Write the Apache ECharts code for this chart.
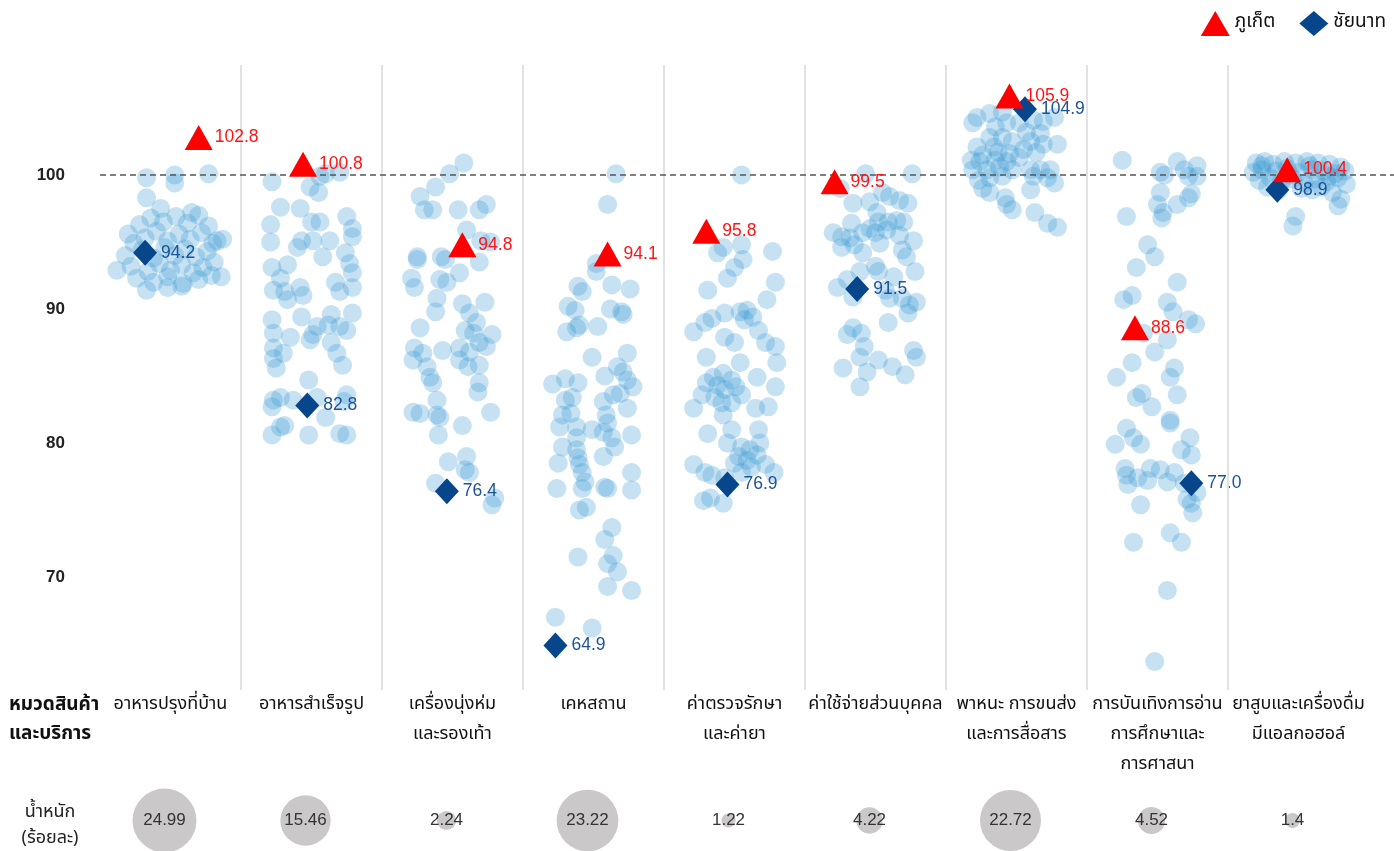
<!DOCTYPE html>
<html>
<head>
<meta charset="utf-8">
<script src="https://cdn.jsdelivr.net/npm/echarts@6/dist/echarts.min.js"></script>
<style>
html,body{margin:0;padding:0;background:#fff;}
#chart{width:1394px;height:851px;}
</style>
</head>
<body>
<div id="chart"></div>
<script>
const categories = [
  'อาหารปรุงที่บ้าน',
  'อาหารสำเร็จรูป',
  'เครื่องนุ่งห่ม\nและรองเท้า',
  'เคหสถาน',
  'ค่าตรวจรักษา\nและค่ายา',
  'ค่าใช้จ่ายส่วนบุคคล',
  'พาหนะ การขนส่ง\nและการสื่อสาร',
  'การบันเทิงการอ่าน\nการศึกษาและ\nการศาสนา',
  'ยาสูบและเครื่องดื่ม\nมีแอลกอฮอล์'
];
const weights = [24.99, 15.46, 2.24, 23.22, 1.22, 4.22, 22.72, 4.52, 1.4];
const phuketValues = [102.8, 100.8, 94.8, 94.1, 95.8, 99.5, 105.9, 88.6, 100.4];
const phuketJitter = [0.20, -0.06, 0.07, 0.10, -0.20, -0.29, -0.05, -0.16, -0.08];
const chainatValues = [94.2, 82.8, 76.4, 64.9, 76.9, 91.5, 104.9, 77.0, 98.9];
const chainatJitter = [-0.18, -0.03, -0.04, -0.27, -0.05, -0.13, 0.06, 0.24, -0.15];
const yTicks = [70, 80, 90, 100];

// other provinces: [jitter, index value]
const ptsFoodHome = [
  [-0.17,99.8],[0.03,100.0],[0.03,99.4],[0.27,100.1],[-0.17,98.3],[-0.07,97.5],[0.15,97.2],
  [-0.30,95.6],[-0.22,96.3],[-0.14,96.8],[-0.05,96.5],[0.04,96.9],[0.12,96.4],[0.20,97.0],[0.27,96.2],
  [-0.26,94.9],[-0.18,95.3],[-0.10,95.8],[-0.02,95.1],[0.06,95.6],[0.14,95.2],[0.22,95.7],[0.30,94.9],
  [-0.32,94.0],[-0.20,94.4],[-0.12,93.8],[-0.04,94.6],[0.03,94.0],[0.10,94.5],[0.18,93.9],[0.26,94.3],[0.33,95.1],
  [-0.28,93.2],[-0.16,92.8],[-0.08,93.4],[0.00,92.9],[0.08,93.3],[0.16,92.7],[0.23,93.1],[0.31,93.5],
  [-0.24,92.3],[-0.12,92.0],[-0.02,92.4],[0.09,91.9],[0.20,92.2],[0.29,92.5],
  [-0.17,91.4],[-0.02,91.6],[0.08,91.7],[0.36,92.4],[-0.38,92.9],[0.37,95.2]
];
const ptsReadyFood = [
  [-0.28,99.5],[-0.01,99.1],[0.05,98.7],[0.10,100.1],[0.20,100.2],[0.06,99.9],[-0.22,97.6],[-0.08,97.5],
  [0.25,96.9],[-0.29,96.3],[0.00,96.5],[0.06,96.5],[0.29,96.0],[-0.29,95.0],[-0.07,95.1],[-0.10,94.6],
  [0.01,95.1],[0.13,95.1],[0.29,95.4],[0.08,93.9],[0.24,94.2],[-0.28,93.1],[-0.17,93.3],[0.27,93.4],
  [0.29,92.7],[-0.22,92.3],[0.17,92.0],[-0.27,91.4],[-0.08,91.6],[-0.19,91.3],[-0.06,91.0],[-0.17,90.7],
  [0.20,91.3],[0.29,91.6],[-0.28,89.2],[-0.07,89.4],[0.14,89.6],[0.29,89.7],[-0.27,88.2],[-0.15,87.9],
  [0.04,88.7],[0.12,88.8],[0.20,88.7],[0.25,88.4],[-0.01,87.7],[0.01,88.1],[0.14,87.5],[-0.27,87.1],
  [-0.20,86.7],[0.18,86.7],[-0.27,86.3],[-0.25,85.6],[0.22,85.8],[-0.02,84.7],[-0.27,83.2],[-0.28,82.7],
  [-0.22,83.4],[-0.13,83.2],[0.04,83.4],[0.25,83.6],[0.23,83.1],[0.10,81.9],[-0.28,80.6],[-0.22,81.2],
  [-0.19,81.3],[-0.02,80.6],[0.20,80.7],[0.25,80.6]
];
const ptsApparel = [
  [0.08,100.9],[-0.02,100.1],[-0.12,99.1],[-0.23,98.4],[-0.20,97.4],[-0.14,97.4],[0.04,97.4],[0.19,97.4],
  [0.24,97.8],[0.10,95.9],[0.20,95.1],[0.27,95.0],[-0.25,93.9],[-0.25,93.7],[-0.08,93.9],[-0.05,93.7],
  [0.19,93.5],[0.05,92.7],[-0.29,92.3],[-0.27,91.6],[-0.09,92.2],[-0.04,92.0],[-0.11,90.8],[-0.12,89.8],
  [0.07,90.4],[0.12,89.7],[0.23,90.5],[0.17,89.0],[-0.23,88.6],[0.09,88.4],[0.15,88.2],[0.28,88.1],
  [0.19,87.5],[0.24,87.2],[-0.27,87.1],[-0.21,86.7],[-0.07,86.9],[0.05,87.1],[0.12,86.8],[-0.28,86.2],
  [-0.18,85.7],[0.05,86.2],[0.11,85.7],[0.19,85.8],[-0.16,84.9],[-0.14,84.5],[0.19,84.5],[0.18,83.8],
  [-0.11,83.2],[-0.28,82.3],[-0.23,82.2],[-0.11,82.1],[-0.09,81.9],[0.27,82.3],[0.07,81.3],[-0.10,80.6],
  [-0.03,78.6],[0.10,79.0],[0.09,78.0],[0.12,77.8],[-0.12,77.0],[0.30,75.9],[0.28,75.4]
];
const ptsHousing = [
  [0.16,100.1],[0.10,97.8],[0.02,93.4],[0.02,92.8],[-0.11,91.7],[-0.08,91.3],[0.13,91.8],[0.26,91.5],
  [-0.18,90.2],[-0.13,89.9],[0.12,90.0],[0.20,89.8],[0.21,89.6],[-0.19,88.3],[-0.12,88.6],[-0.10,88.8],
  [0.03,88.7],[-0.01,86.4],[0.24,86.7],[-0.29,84.4],[-0.20,84.8],[-0.11,84.5],[0.08,85.0],[0.17,85.7],
  [0.21,85.3],[0.24,84.7],[0.28,84.2],[0.19,83.7],[-0.20,83.2],[-0.15,83.4],[0.07,83.1],[0.14,83.6],
  [0.24,82.6],[-0.22,82.1],[-0.16,82.2],[0.09,82.1],[0.10,81.5],[-0.24,81.2],[-0.12,81.2],[-0.01,81.0],
  [0.07,80.8],[0.13,80.4],[0.27,80.6],[-0.12,80.4],[-0.22,79.7],[-0.12,79.5],[0.15,79.7],[0.07,79.0],
  [-0.25,78.5],[-0.11,78.9],[-0.10,78.4],[-0.08,77.8],[0.27,77.8],[-0.06,77.1],[-0.08,76.6],[-0.26,76.6],
  [0.08,76.7],[0.10,76.6],[0.27,76.5],[-0.05,75.2],[-0.10,75.0],[0.13,73.7],[0.08,72.8],[0.14,71.6],
  [0.10,71.0],[0.17,70.4],[-0.11,71.5],[0.10,69.3],[0.27,69.0],[-0.27,67.0],[-0.01,66.2]
];
const ptsMedical = [
  [0.05,100.0],[0.27,94.3],[-0.12,94.2],[-0.08,94.6],[0.05,94.8],[0.06,93.7],[0.00,93.1],[-0.05,92.3],
  [0.29,92.0],[-0.19,91.4],[0.23,90.7],[-0.29,88.3],[-0.21,89.0],[-0.16,89.3],[-0.07,89.7],[0.04,89.8],
  [0.09,89.9],[0.13,89.4],[0.07,89.2],[0.17,88.4],[-0.07,87.9],[0.00,87.5],[0.22,87.5],[0.29,87.2],
  [-0.20,86.4],[0.30,86.0],[0.04,86.0],[-0.15,84.9],[-0.08,85.2],[-0.02,84.7],[-0.20,84.5],[-0.12,84.3],
  [-0.07,84.0],[0.01,84.2],[0.05,83.6],[0.16,84.9],[0.29,84.2],[-0.14,83.4],[-0.09,83.0],[-0.23,83.6],
  [-0.29,82.6],[-0.02,83.0],[0.15,82.6],[0.24,82.7],[-0.08,82.1],[-0.19,80.7],[-0.02,81.0],[0.17,81.0],
  [-0.05,80.0],[0.05,79.7],[0.11,79.5],[0.18,80.0],[0.03,79.0],[0.09,78.7],[0.16,79.1],[0.00,78.5],
  [-0.29,78.4],[0.12,78.2],[0.22,78.4],[0.28,77.8],[-0.21,77.8],[-0.16,77.6],[-0.07,77.4],[0.05,77.8],
  [-0.22,75.7],[-0.17,75.9],[-0.08,75.5]
];
const ptsPersonal = [
  [-0.07,100.1],[0.26,100.1],[-0.25,99.0],[0.05,98.7],[0.10,98.4],[0.17,98.1],[0.23,97.9],[-0.16,97.9],
  [-0.04,98.0],[0.01,97.2],[0.02,96.5],[0.09,96.5],[0.15,96.6],[0.20,96.5],[-0.17,96.4],[-0.04,96.0],
  [-0.30,95.7],[-0.24,95.4],[-0.18,95.3],[-0.09,95.7],[0.00,95.7],[0.08,95.9],[0.17,95.5],[0.27,95.1],
  [-0.24,94.6],[-0.15,94.8],[-0.09,94.2],[0.03,94.9],[0.19,94.4],[0.22,93.9],[-0.20,92.2],[-0.11,92.8],
  [0.00,93.2],[0.02,92.8],[0.13,92.4],[0.28,92.8],[-0.27,91.6],[-0.16,90.9],[0.07,91.4],[0.10,90.8],
  [0.19,90.8],[0.24,90.3],[0.29,90.5],[0.23,89.7],[0.09,89.0],[-0.16,88.6],[-0.20,88.1],[-0.10,88.2],
  [-0.08,87.2],[0.27,86.9],[0.29,86.4],[-0.11,86.4],[0.02,86.2],[-0.23,85.6],[-0.06,85.3],[0.12,85.7],
  [0.21,85.1],[-0.11,84.2]
];
const ptsTransport = [
  [-0.31,103.9],[-0.28,104.3],[-0.19,104.6],[-0.10,104.7],[-0.15,103.6],[-0.07,103.9],[0.02,103.9],[0.12,104.1],
  [0.19,104.0],[0.27,104.3],[0.07,103.2],[0.17,103.1],[-0.19,102.8],[-0.10,102.8],[-0.03,102.5],[-0.28,102.1],
  [-0.16,102.1],[0.10,102.5],[0.19,102.3],[0.29,102.3],[-0.24,101.5],[-0.13,101.7],[-0.05,101.6],[0.05,101.9],
  [0.14,101.7],[-0.32,101.1],[-0.26,101.0],[-0.15,101.1],[-0.07,101.0],[0.02,101.3],[-0.31,100.4],[-0.21,100.4],
  [-0.12,100.6],[-0.03,100.4],[0.10,100.4],[0.17,100.4],[0.24,100.4],[-0.27,99.6],[-0.19,99.8],[-0.10,99.9],
  [0.12,99.9],[0.22,99.8],[0.27,99.4],[-0.24,99.0],[-0.19,98.7],[-0.08,98.3],[0.10,98.9],[-0.07,97.8],
  [-0.03,97.4],[0.13,97.2],[0.22,96.4],[0.29,96.1]
];
const ptsRecreation = [
  [-0.25,101.1],[0.14,101.0],[0.28,100.7],[0.02,100.2],[0.05,100.0],[0.19,100.4],[0.22,99.9],[0.28,99.9],
  [0.02,98.7],[0.24,98.6],[0.22,98.3],[0.14,97.8],[0.00,97.8],[0.04,97.2],[0.03,96.8],[-0.22,96.9],
  [-0.07,94.8],[-0.02,93.9],[-0.15,93.1],[0.14,92.0],[-0.18,91.0],[-0.24,90.7],[0.07,90.5],[0.11,89.8],
  [0.22,89.2],[0.27,88.9],[-0.10,88.2],[0.07,87.7],[-0.02,86.8],[-0.18,86.0],[-0.29,84.9],[0.12,85.6],
  [0.09,84.9],[0.14,83.6],[-0.15,83.4],[-0.11,83.7],[-0.04,82.7],[0.09,81.7],[0.09,81.5],[-0.22,81.1],
  [-0.30,79.9],[-0.17,80.4],[-0.12,79.9],[0.23,80.4],[0.17,79.5],[0.24,79.1],[-0.23,78.1],[-0.22,77.6],
  [-0.05,78.1],[0.02,78.0],[0.12,77.8],[-0.21,76.9],[-0.14,77.4],[-0.07,77.2],[0.07,77.1],[0.19,77.0],
  [0.28,76.3],[0.21,75.8],[0.24,75.5],[-0.12,75.4],[0.25,74.8],[0.09,73.3],[0.17,72.6],[-0.17,72.6],
  [0.07,69.0],[-0.02,63.7]
];
const ptsTobacco = [
  [-0.30,100.9],[-0.24,101.0],[-0.18,100.8],[-0.10,101.0],[-0.02,100.9],[0.06,101.0],[0.14,100.9],[0.22,100.8],[0.30,100.6],
  [-0.32,100.2],[-0.26,100.4],[-0.16,100.3],[-0.08,100.5],[0.00,100.2],[0.10,100.4],[0.18,100.3],[0.26,100.1],[0.33,100.3],
  [-0.28,99.6],[-0.20,99.8],[-0.12,99.5],[-0.04,99.7],[0.04,99.4],[0.12,99.7],[0.20,99.5],[0.28,99.8],[0.34,99.3],
  [-0.22,99.1],[-0.14,98.9],[0.02,99.0],[0.10,98.9],[0.16,99.1],[0.24,98.7],[0.30,98.2],[0.28,97.7],
  [-0.02,96.9],[-0.04,96.2],[-0.26,100.7],[0.08,100.7],[-0.06,100.0],[0.22,99.9]
];
const pointGroups = [ptsFoodHome, ptsReadyFood, ptsApparel, ptsHousing, ptsMedical, ptsPersonal, ptsTransport, ptsRecreation, ptsTobacco];

const FONT = '"Noto Sans Thai", "Noto Sans", Tahoma, sans-serif';
const NUMFONT = '"Liberation Sans", Arial, sans-serif';
const colWidthUnits = 1294 / 141; // axis span in column units

const otherData = [];
pointGroups.forEach((g, i) => g.forEach(p => otherData.push([i + 0.5 + p[0], p[1]])));
const phuketData = phuketValues.map((v, i) => [i + 0.5 + phuketJitter[i], v]);
const chainatData = chainatValues.map((v, i) => [i + 0.5 + chainatJitter[i], v]);
const weightData = weights.map((w, i) => [i + 0.5, 0.5, w]);

const chart = echarts.init(document.getElementById('chart'), null, {renderer: 'canvas'});
chart.setOption({
  animation: false,
  textStyle: {fontFamily: FONT},
  title: [
    {text: 'หมวดสินค้า\nและบริการ', left: 4, top: 687,
     textStyle: {fontSize: 19, fontWeight: 'bold', color: '#111', lineHeight: 29, fontFamily: FONT}},
    {text: 'น้ำหนัก\n(ร้อยละ)', left: 45, top: 795, textAlign: 'center',
     textStyle: {fontSize: 18, fontWeight: 'normal', color: '#222', lineHeight: 26, fontFamily: FONT}}
  ],
  legend: {
    right: 3, top: 6, itemWidth: 29, itemHeight: 25, itemGap: 24,
    data: ['ภูเก็ต', 'ชัยนาท'],
    textStyle: {fontSize: 19, color: '#111', fontFamily: FONT}
  },
  grid: [
    {left: 100, right: 0, top: 65, bottom: 161},
    {left: 100, right: 25, top: 65, bottom: 161},
    {left: 94, right: 6, top: 790, height: 64}
  ],
  xAxis: [
    {type: 'value', gridIndex: 0, min: 0, max: colWidthUnits, show: false},
    {type: 'category', gridIndex: 1, data: categories,
     axisLine: {show: false}, axisTick: {show: false},
     axisLabel: {interval: 0, margin: 0, fontSize: 18, lineHeight: 30, color: '#111', fontFamily: FONT}},
    {type: 'value', gridIndex: 2, min: 0, max: colWidthUnits, show: false}
  ],
  yAxis: [
    {type: 'value', gridIndex: 0, min: 61.57, max: 108.21,
     axisLine: {show: false}, axisTick: {show: false}, splitLine: {show: false},
     axisLabel: {customValues: yTicks, margin: 35, fontSize: 17, fontWeight: 'bold', color: '#222', fontFamily: NUMFONT}},
    {type: 'value', gridIndex: 1, show: false},
    {type: 'value', gridIndex: 2, min: 0, max: 1, show: false}
  ],
  series: [
    {
      name: 'others', type: 'scatter', xAxisIndex: 0, yAxisIndex: 0,
      data: otherData, symbol: 'circle', symbolSize: 19, z: 2,
      itemStyle: {color: 'rgba(55,150,210,0.29)', opacity: 1},
      silent: true,
      markLine: {
        silent: true, symbol: 'none', label: {show: false},
        lineStyle: {color: '#e2e2e2', width: 2, type: 'solid'},
        data: categories.slice(1).map((c, i) => ({xAxis: i + 1}))
      }
    },
    {
      name: 'dash', type: 'scatter', xAxisIndex: 0, yAxisIndex: 0, data: [], z: 3,
      markLine: {
        silent: true, symbol: 'none', label: {show: false},
        lineStyle: {color: '#555', width: 1.5, type: [6, 4]},
        data: [{yAxis: 100}]
      }
    },
    {
      name: 'ภูเก็ต', type: 'scatter', xAxisIndex: 0, yAxisIndex: 0,
      data: phuketData, symbol: 'triangle', symbolSize: [28, 25], z: 5,
      itemStyle: {color: '#ff0000', opacity: 1},
      label: {show: true, position: 'right', distance: 2, fontSize: 17.5, color: '#ff1414',
              fontFamily: NUMFONT,
              formatter: p => p.value[1].toFixed(1)}
    },
    {
      name: 'ชัยนาท', type: 'scatter', xAxisIndex: 0, yAxisIndex: 0,
      data: chainatData, symbol: 'diamond', symbolSize: [24, 26], z: 4,
      itemStyle: {color: '#08468c', opacity: 1},
      label: {show: true, position: 'right', distance: 4, fontSize: 17.5, color: '#1c5296',
              fontFamily: NUMFONT,
              formatter: p => p.value[1].toFixed(1)}
    },
    {
      name: 'weights', type: 'scatter', xAxisIndex: 2, yAxisIndex: 2,
      data: weightData, z: 2, silent: true,
      symbolSize: v => 12.8 * Math.sqrt(v[2]),
      itemStyle: {color: '#cac8c8', opacity: 1},
      label: {show: true, position: 'inside', fontSize: 17, color: '#333',
              fontFamily: NUMFONT,
              formatter: p => String(p.value[2])}
    }
  ]
});
</script>
</body>
</html>
